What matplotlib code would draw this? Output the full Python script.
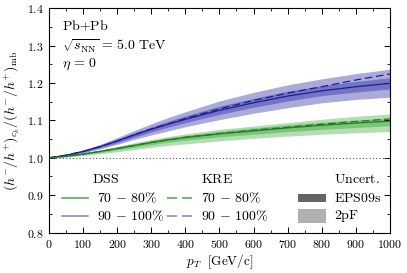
import matplotlib
matplotlib.use("Agg")
import matplotlib.pyplot as plt
from matplotlib.ticker import MultipleLocator, FixedLocator, FuncFormatter
from matplotlib.patches import Rectangle

plt.rcParams['mathtext.fontset'] = 'cm'
plt.rcParams['font.family'] = 'serif'
plt.rcParams['font.serif'] = ['DejaVu Serif']

pt = [0, 50, 100, 150, 200, 250, 300, 350, 400, 500, 600, 700, 800, 900, 1000]

blue_dss = [1.0, 1.007, 1.017, 1.030, 1.045, 1.061, 1.076, 1.090, 1.103, 1.127, 1.147, 1.165, 1.179, 1.190, 1.199]
blue_kre = [1.0, 1.007, 1.017, 1.030, 1.045, 1.061, 1.077, 1.091, 1.105, 1.131, 1.153, 1.173, 1.190, 1.208, 1.224]
blue_2pf_lo = [1.0, 1.005, 1.013, 1.024, 1.036, 1.049, 1.061, 1.072, 1.083, 1.102, 1.119, 1.134, 1.147, 1.156, 1.162]
blue_2pf_hi = [1.0, 1.009, 1.021, 1.036, 1.054, 1.073, 1.091, 1.108, 1.123, 1.152, 1.175, 1.195, 1.211, 1.225, 1.237]
blue_eps_lo = [1.0, 1.006, 1.015, 1.027, 1.040, 1.055, 1.069, 1.082, 1.094, 1.116, 1.135, 1.152, 1.166, 1.176, 1.184]
blue_eps_hi = [1.0, 1.008, 1.019, 1.033, 1.050, 1.067, 1.083, 1.098, 1.112, 1.138, 1.159, 1.178, 1.193, 1.204, 1.214]

green_dss = [1.0, 1.004, 1.010, 1.017, 1.025, 1.033, 1.041, 1.048, 1.054, 1.064, 1.072, 1.080, 1.087, 1.093, 1.098]
green_kre = [1.0, 1.004, 1.010, 1.017, 1.025, 1.033, 1.041, 1.048, 1.055, 1.065, 1.074, 1.082, 1.090, 1.097, 1.104]
green_2pf_lo = [1.0, 1.002, 1.006, 1.011, 1.016, 1.022, 1.028, 1.033, 1.037, 1.045, 1.052, 1.058, 1.063, 1.067, 1.070]
green_2pf_hi = [1.0, 1.005, 1.013, 1.021, 1.030, 1.040, 1.049, 1.057, 1.064, 1.076, 1.085, 1.094, 1.103, 1.111, 1.117]
green_eps_lo = [1.0, 1.003, 1.008, 1.014, 1.021, 1.028, 1.035, 1.042, 1.047, 1.056, 1.063, 1.070, 1.076, 1.081, 1.086]
green_eps_hi = [1.0, 1.005, 1.012, 1.020, 1.029, 1.038, 1.046, 1.054, 1.060, 1.071, 1.080, 1.088, 1.095, 1.101, 1.106]

xticks = [0, 100, 200, 300, 400, 500, 600, 700, 800, 900, 1000]
yticks = [0.8, 0.9, 1.0, 1.1, 1.2, 1.3, 1.4]

fig = plt.figure(figsize=(4.07, 2.73), dpi=100)
ax = fig.add_axes([0.1204, 0.148, 0.958 - 0.1204, 0.97 - 0.148])

BL_LIGHT = '#aaaadb'
BL_DARK = '#7474c2'
BL_LINE = '#1c1c9c'
GR_LIGHT = '#b4ddb4'
GR_DARK = '#7cc47c'
GR_LINE = '#1d7d1d'

ax.fill_between(pt, blue_2pf_lo, blue_2pf_hi, color=BL_LIGHT, lw=0)
ax.fill_between(pt, blue_eps_lo, blue_eps_hi, color=BL_DARK, lw=0)
ax.fill_between(pt, green_2pf_lo, green_2pf_hi, color=GR_LIGHT, lw=0)
ax.fill_between(pt, green_eps_lo, green_eps_hi, color=GR_DARK, lw=0)

ax.plot(pt, blue_dss, color=BL_LINE, lw=0.9)
ax.plot(pt, blue_kre, color=BL_LINE, lw=0.9, ls=(0, (6, 3)))
ax.plot(pt, green_dss, color=GR_LINE, lw=0.9)
ax.plot(pt, green_kre, color=GR_LINE, lw=0.9, ls=(0, (6, 3)))

ax.axhline(1.0, color='#555555', lw=0.8, ls=(0, (1, 2)))

ax.set_xlim(0, 1000)
ax.set_ylim(0.8, 1.4)
ax.xaxis.set_major_locator(FixedLocator(xticks))
ax.yaxis.set_major_locator(FixedLocator(yticks))
ax.xaxis.set_minor_locator(MultipleLocator(50))
ax.yaxis.set_minor_locator(MultipleLocator(0.05))
ax.xaxis.set_major_formatter(FuncFormatter(lambda v, p: r'$\mathrm{%d}$' % round(v)))
ax.yaxis.set_major_formatter(FuncFormatter(lambda v, p: r'$\mathrm{%.1f}$' % v))
ax.tick_params(which='both', direction='in', top=True, right=True, labelsize=8.5, pad=4)
ax.tick_params(which='major', length=4, width=0.7)
ax.tick_params(which='minor', length=2, width=0.6)
for s in ax.spines.values():
    s.set_linewidth(0.8)

ax.set_xlabel(r'$p_T\ \ \mathrm{[GeV/c]}$', fontsize=9.5, labelpad=1)
ax.set_ylabel(r'$(h^{-}/h^{+})_{c_k}/(h^{-}/h^{+})_{\mathrm{mb}}$', fontsize=10, labelpad=3)

fs = 10
ax.text(0.037, 0.92, r'$\mathrm{Pb{+}Pb}$', transform=ax.transAxes, fontsize=fs, va='center')
ax.text(0.037, 0.832, r'$\sqrt{s_{\mathrm{NN}}}\,=\,5.0\ \mathrm{TeV}$', transform=ax.transAxes, fontsize=fs, va='center')
ax.text(0.037, 0.748, r'$\eta\,=\,0$', transform=ax.transAxes, fontsize=fs, va='center')

# legend
ty = [0.2375, 0.153, 0.074]
ax.text(0.126, ty[0], r'$\mathrm{DSS}$', transform=ax.transAxes, fontsize=fs, va='center')
ax.text(0.446, ty[0], r'$\mathrm{KRE}$', transform=ax.transAxes, fontsize=fs, va='center')
ax.text(0.836, ty[0], r'$\mathrm{Uncert.}$', transform=ax.transAxes, fontsize=fs, va='center')
ax.text(0.14, ty[1], r'$70\,-\,80\%$', transform=ax.transAxes, fontsize=fs, va='center')
ax.text(0.14, ty[2], r'$90\,-\,100\%$', transform=ax.transAxes, fontsize=fs, va='center')
ax.text(0.446, ty[1], r'$70\,-\,80\%$', transform=ax.transAxes, fontsize=fs, va='center')
ax.text(0.446, ty[2], r'$90\,-\,100\%$', transform=ax.transAxes, fontsize=fs, va='center')
ax.text(0.836, ty[1], r'$\mathrm{EPS09s}$', transform=ax.transAxes, fontsize=fs, va='center')
ax.text(0.836, ty[2], r'$\mathrm{2pF}$', transform=ax.transAxes, fontsize=fs, va='center')

ax.plot([0.037, 0.115], [ty[1], ty[1]], transform=ax.transAxes, color='#5aaa5a', lw=1.2)
ax.plot([0.037, 0.115], [ty[2], ty[2]], transform=ax.transAxes, color='#8c8cd0', lw=1.2)
ax.plot([0.345, 0.43], [ty[1], ty[1]], transform=ax.transAxes, color='#5aaa5a', lw=1.2, ls=(0, (6, 3)))
ax.plot([0.345, 0.43], [ty[2], ty[2]], transform=ax.transAxes, color='#8c8cd0', lw=1.2, ls=(0, (6, 3)))

ax.add_patch(Rectangle((0.73, ty[1] - 0.018), 0.082, 0.036, transform=ax.transAxes, color='#646464', lw=0))
ax.add_patch(Rectangle((0.73, ty[2] - 0.03), 0.082, 0.06, transform=ax.transAxes, color='#b0b0b0', lw=0))

fig.savefig('out.png', dpi=100)
